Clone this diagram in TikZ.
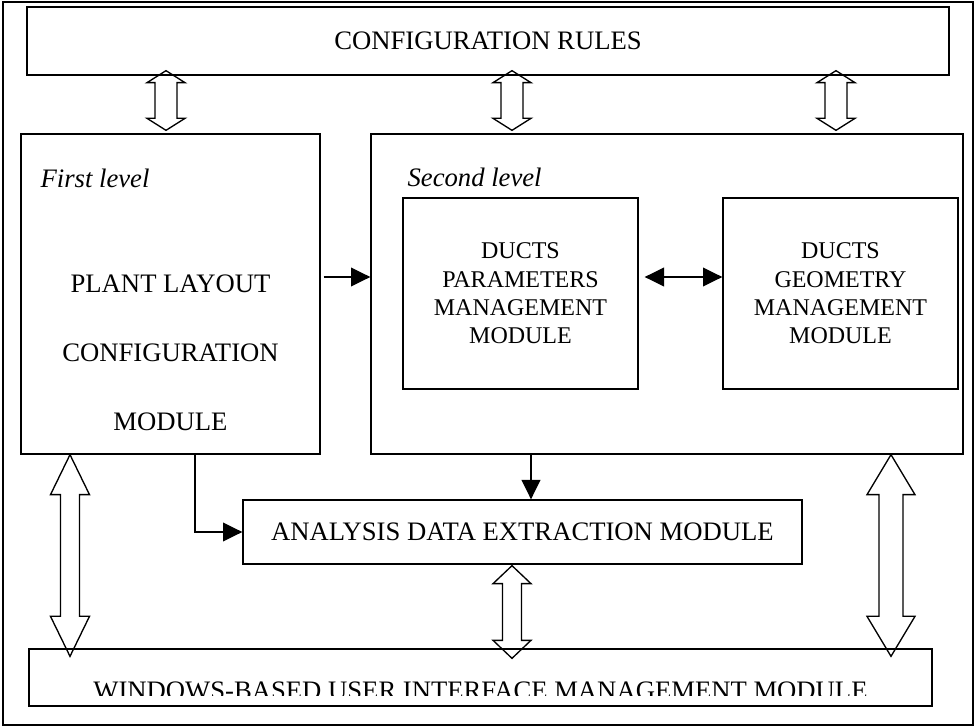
\documentclass[tikz,border=0pt]{standalone}
\usepackage{fontspec}
\setmainfont{Liberation Serif}
\usetikzlibrary{arrows.meta,calc}

\newcommand{\fatarrow}[5]{%
  \path[draw,line width=1pt,line join=miter] (#1) -- ++(#3,#5) -- ++({#4-#3},0)
    -- ($(#2)+(#4,-#5)$) -- ++({#3-#4},0) -- (#2) -- ++(-#3,-#5) -- ++({#3-#4},0)
    -- ($(#1)+(-#4,#5)$) -- ++({#4-#3},0) -- cycle;}

\begin{document}
\begin{tikzpicture}[x=0.75pt,y=-0.75pt]
  \tikzstyle{every node}=[font=\fontsize{20}{24}\selectfont];
  \tikzstyle{box}=[draw,line width=1pt,inner sep=0pt,align=center];
  \tikzstyle{small}=[font=\fontsize{18}{21.25}\selectfont];
  \tikzstyle{lvl}=[anchor=base west,inner sep=0pt,font=\fontsize{20}{24}\selectfont\itshape];
  \tikzstyle{arr}=[-{Triangle[length=14.5pt,width=14pt]},line width=1pt];
  \tikzstyle{arrs}=[{Triangle[length=14.5pt,width=14pt]}-{Triangle[length=14.5pt,width=14pt]},line width=1pt];
  \useasboundingbox (0,0) rectangle (976,727);

  \path (488,363.5) node[box,line width=1.1pt,minimum width=727.5pt,minimum height=542.25pt] (frame) {};
  \path (488,41)    node[box,minimum width=691.5pt,minimum height=51pt] (rules) {CONFIGURATION RULES};
  \path (170.5,294) node[box,minimum width=224.25pt,minimum height=240pt] (first) {};
  \path (667,294)   node[box,minimum width=444pt,minimum height=240pt] (second) {};
  \path (520.5,293.5) node[box,small,minimum width=176.25pt,minimum height=143.25pt] (param) {DUCTS\\PARAMETERS\\MANAGEMENT\\MODULE};
  \path (840.5,293.5) node[box,small,minimum width=176.25pt,minimum height=143.25pt] (geom) {DUCTS\\GEOMETRY\\MANAGEMENT\\MODULE};
  \path (522.5,532) node[box,minimum width=419.25pt,minimum height=48pt] (analysis) {ANALYSIS DATA EXTRACTION MODULE};
  \path (480.5,677.5) node[box,minimum width=677.25pt,minimum height=42.75pt] (windows) {};

  \path ($(first.north west)+(20,54)$) node[lvl] (firstlvl) {First level};
  \path ($(second.north west)+(37,53)$) node[lvl] (secondlvl) {Second level};
  \path ($(first.center)+(0,59)$) node[align=center,inner sep=0pt,font=\fontsize{20}{51.75}\selectfont] (plant) {PLANT LAYOUT\\CONFIGURATION\\MODULE};
  \begin{scope}
    \clip (windows.north west) rectangle ($(windows.south east)+(0,-11)$);
    \path ($(windows.center)+(0,13.5)$) node[inner sep=0pt] (wintext) {WINDOWS-BASED USER INTERFACE MANAGEMENT MODULE};
  \end{scope}

  \path (166,0) coordinate (c1) (512,0) coordinate (c2) (836,0) coordinate (c3)
        (70,0) coordinate (c4) (891,0) coordinate (c5) (531,0) coordinate (c6)
        (195,0) coordinate (c7) (0,277) coordinate (r1);

  \path[draw,arr] ($(first.east |- r1)+(3,0)$) -- (second.west |- r1);
  \path[draw,arrs] ($(param.east |- r1)+(6,0)$) -- (geom.west |- r1);
  \path[draw,arr] (first.south -| c7) |- (analysis.west);
  \path[draw,arr] (second.south -| c6) -- (analysis.north -| c6);

  \path ($(rules.south -| c1)+(0,-5)$) coordinate (ta1) ($(first.north -| c1)+(0,-3)$) coordinate (tb1)
        ($(rules.south -| c2)+(0,-5)$) coordinate (ta2) ($(second.north -| c2)+(0,-3)$) coordinate (tb2)
        ($(rules.south -| c3)+(0,-5)$) coordinate (ta3) ($(second.north -| c3)+(0,-3)$) coordinate (tb3)
        (first.south -| c4) coordinate (ua1) ($(windows.north -| c4)+(0,8)$) coordinate (ub1)
        (second.south -| c5) coordinate (ua2) ($(windows.north -| c5)+(0,8)$) coordinate (ub2)
        ($(analysis.south -| c2)+(0,1)$) coordinate (ua3) ($(windows.north -| c2)+(0,10)$) coordinate (ub3);

  \fatarrow{ta1}{tb1}{19}{11}{12}
  \fatarrow{ta2}{tb2}{19}{11}{12}
  \fatarrow{ta3}{tb3}{19}{11}{12}
  \fatarrow{ua1}{ub1}{19.5}{9.5}{40}
  \fatarrow{ua2}{ub2}{24}{12}{40}
  \fatarrow{ua3}{ub3}{19}{9.5}{18}
\end{tikzpicture}
\end{document}
